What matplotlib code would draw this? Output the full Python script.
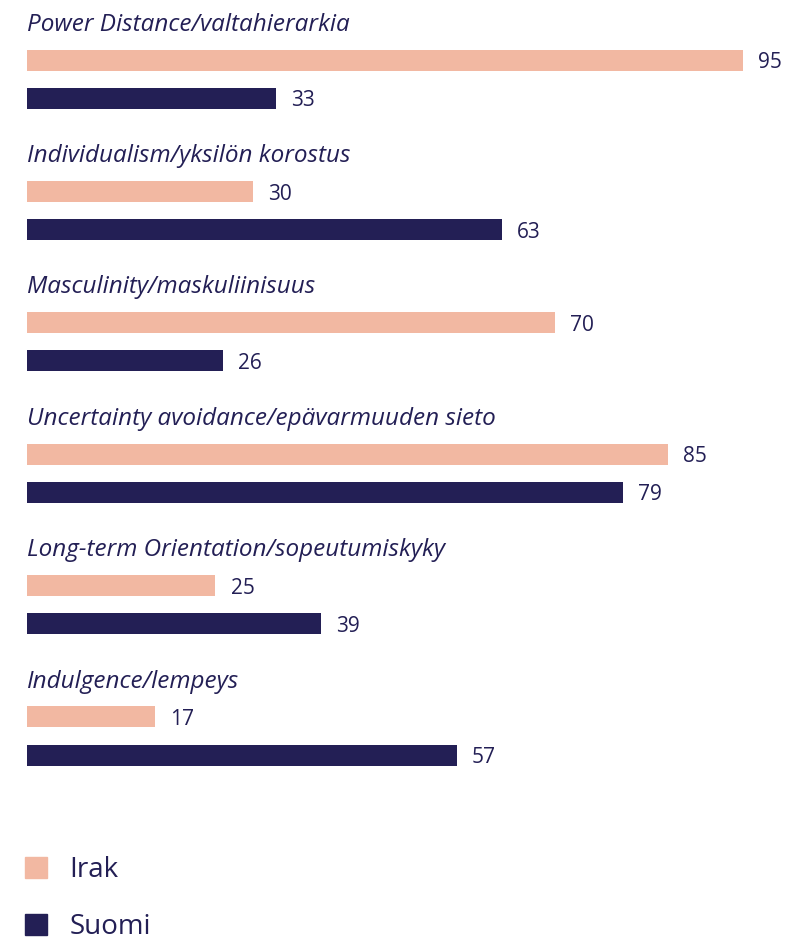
import matplotlib.pyplot as plt
from matplotlib.patches import Patch

categories = ["Power Distance/valtahierarkia",
              "Individualism/yksilön korostus",
              "Masculinity/maskuliinisuus",
              "Uncertainty avoidance/epävarmuuden sieto",
              "Long-term Orientation/sopeutumiskyky",
              "Indulgence/lempeys"]
irak = [95, 30, 70, 85, 25, 17]
suomi = [33, 63, 26, 79, 39, 57]

c_irak = '#F2B8A2'
c_suomi = '#231F55'
navy = '#231F55'

plt.rcParams['font.family'] = ['Open Sans', 'DejaVu Sans']

fig = plt.figure(figsize=(7.96, 9.41), dpi=100)
ax = fig.add_axes([27 / 796, 0, 769 / 796, 1])
ax.set_xlim(0, 102)
ax.set_ylim(6.705, -0.457)
ax.axis('off')

h = 0.16
off = 0.29
for i, cat in enumerate(categories):
    ax.barh(i, irak[i], height=h, color=c_irak)
    ax.barh(i + off, suomi[i], height=h, color=c_suomi)
    ax.text(irak[i] + 2, i + 0.02, str(irak[i]), va='center', ha='left',
            fontsize=15, color=navy)
    ax.text(suomi[i] + 2, i + off + 0.02, str(suomi[i]), va='center', ha='left',
            fontsize=15, color=navy)
    ax.text(0, i - 0.27, cat, va='center', ha='left', fontsize=17.5,
            style='italic', color=navy)

handles = [Patch(color=c_irak, label='Irak'), Patch(color=c_suomi, label='Suomi')]
fig.legend(handles=handles, loc='lower left', bbox_to_anchor=(0.0, -0.027),
           frameon=False, fontsize=20, handlelength=0.8, handleheight=0.8,
           labelspacing=1.05, handletextpad=0.8, labelcolor=navy)

fig.savefig('out.png', dpi=100)
